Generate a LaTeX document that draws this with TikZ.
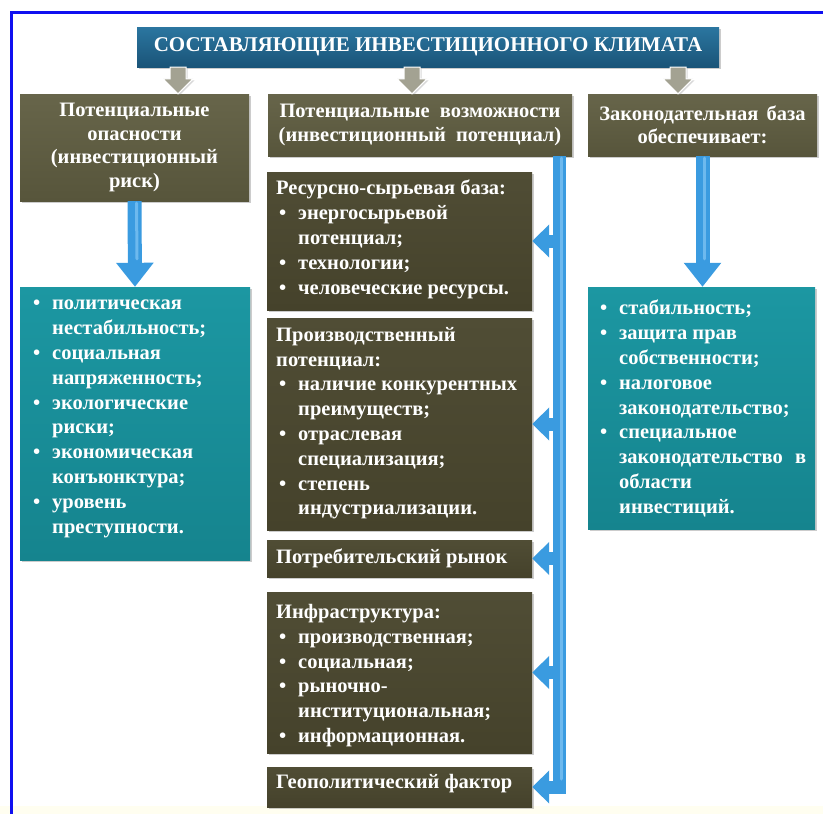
\documentclass[tikz,border=0pt]{standalone}
\usepackage{fontspec}
\setmainfont{Liberation Serif}
\usetikzlibrary{arrows.meta,shadows,calc}
\definecolor{titletop}{HTML}{2B76A0}
\definecolor{titlebot}{HTML}{1A5478}
\definecolor{olivetop}{HTML}{67654A}
\definecolor{olivebot}{HTML}{57553B}
\definecolor{darktop}{HTML}{504D35}
\definecolor{darkbot}{HTML}{45422B}
\definecolor{tealtop}{HTML}{1C97A2}
\definecolor{tealbot}{HTML}{15848E}
\definecolor{arrowblue}{HTML}{3A9BE0}
\definecolor{arrowlight}{HTML}{6DB9EE}
\definecolor{grayarr}{HTML}{A3A292}
\definecolor{frameblue}{HTML}{1010F0}
\newcommand{\bi}{\hspace*{3pt}\makebox[19pt][l]{\textbullet}}
\newcommand{\bc}{\hspace*{22pt}}
\newcommand{\grayarrow}[2]{%
  \path[fill=grayarr, draw=white, line width=1pt,
        drop shadow={opacity=0.3,shadow xshift=1.5pt,shadow yshift=-1.5pt}]
    let \p1=(#1), \p2=(#2) in
    ({\x1-8pt},\y1) -- ({\x1+8pt},\y1) -- ({\x1+8pt},{\y2+15pt}) --
    ({\x1+15pt},{\y2+15pt}) -- (\x1,\y2) -- ({\x1-15pt},{\y2+15pt}) --
    ({\x1-8pt},{\y2+15pt}) -- cycle;}
\begin{document}
\begin{tikzpicture}[x=1pt,y=-1pt,
  txt/.style={text=white, font=\bfseries\fontsize{20.5}{24.8}\selectfont},
  boxbase/.style={inner sep=0pt, drop shadow={opacity=0.4,shadow xshift=2pt,shadow yshift=-2pt}},
  titlebox/.style={boxbase, top color=titletop, bottom color=titlebot, text=white,
     font=\bfseries\fontsize{21}{24}\selectfont},
  headbox/.style={boxbase, top color=olivetop, bottom color=olivebot, txt,
     align=center, font=\bfseries\fontsize{20.5}{23.5}\selectfont},
  midbox/.style={boxbase, top color=darktop, bottom color=darkbot},
  tealbox/.style={boxbase, top color=tealtop, bottom color=tealbot},
  listtxt/.style={txt, inner sep=0pt, align=left, anchor=north west},
  bluearrow/.style={line width=14pt, draw=arrowblue, -{Triangle[length=24pt,width=36pt]}},
  bluebar/.style={line width=13pt, draw=arrowblue, line join=miter, -{Triangle[length=17pt,width=32pt]}},
  highlight/.style={line width=3pt, draw=arrowlight, line cap=round}
]
\useasboundingbox (0,0) rectangle (823,814);
\fill[white] (0,0) rectangle (823,814);
\fill[yellow!6] (0,806) rectangle (823,814);
% frame
\draw[frameblue, line width=3pt] (11,814) -- (11,12) -- (823,12);

% title
\node[titlebox, minimum width=582pt, minimum height=40pt] (title) at (428,47)
  {СОСТАВЛЯЮЩИЕ ИНВЕСТИЦИОННОГО КЛИМАТА};

% headers
\node[headbox, minimum width=229pt, minimum height=107pt] (hL) at (134.5,147.5)
  {Потенциальные\\опасности\\(инвестиционный\\риск)};
\node[headbox, minimum width=304pt, minimum height=62pt] (hM) at (420,125)
  {Потенциальные\hspace{0.5em}возможности\\(инвестиционный\hspace{0.5em}потенциал)};
\node[headbox, minimum width=229pt, minimum height=62pt] (hR) at (702.5,125)
  {Законодательная\hspace{0.4em}база\\обеспечивает:};

% gray arrows
\coordinate (g1) at (178,67);
\coordinate (g2) at (412,67);
\coordinate (g3) at (678,67);
\grayarrow{g1}{g1 |- hL.north}
\grayarrow{g2}{g2 |- hM.north}
\grayarrow{g3}{g3 |- hR.north}

% teal boxes
\node[tealbox, minimum width=230pt, minimum height=273pt] (tL) at (135,423.5) {};
\node[tealbox, minimum width=227pt, minimum height=242pt] (tR) at (701.5,408) {};
\node[listtxt] (tLt) at (30,300) {\bi политическая\\\bc нестабильность;\\\bi социальная\\\bc напряженность;\\\bi экологические\\\bc риски;\\\bi экономическая\\\bc конъюнктура;\\\bi уровень\\\bc преступности.};
\node[listtxt] (tRt) at (597,300) {\bi стабильность;\\\bi защита прав\\\bc собственности;\\\bi налоговое\\\bc законодательство;\\\bi специальное\\\bc законодательство\hspace{0.6em}в\\\bc области\\\bc инвестиций.};

% middle boxes
\node[midbox, minimum width=265pt, minimum height=138pt] (m1) at (399.5,241) {};
\node[midbox, minimum width=265pt, minimum height=212pt] (m2) at (399.5,424) {};
\node[midbox, minimum width=265pt, minimum height=37pt] (m3) at (399.5,558.5) {};
\node[midbox, minimum width=265pt, minimum height=161pt] (m4) at (399.5,672.5) {};
\node[midbox, minimum width=265pt, minimum height=40pt] (m5) at (399.5,787) {};
\node[listtxt] (m1t) at (276,180) {Ресурсно-сырьевая база:\\\bi энергосырьевой\\\bc потенциал;\\\bi технологии;\\\bi человеческие ресурсы.};
\node[listtxt] (m2t) at (276,327) {Производственный\\потенциал:\\\bi наличие конкурентных\\\bc преимуществ;\\\bi отраслевая\\\bc специализация;\\\bi степень\\\bc индустриализации.};
\node[txt, anchor=west, inner sep=0pt] (m3t) at (276,558.5) {Потребительский рынок};
\node[listtxt] (m4t) at (276,604) {Инфраструктура:\\\bi производственная;\\\bi социальная;\\\bi рыночно-\\\bc институциональная;\\\bi информационная.};
\node[txt, anchor=west, inner sep=0pt] (m5t) at (276,784) {Геополитический фактор};

% blue arrows
\draw[bluearrow] (hL.south) -- (tL.north);
\draw[highlight] ($(hL.south)+(2,2)$) -- ($(tL.north)+(2,-28)$);
\draw[bluearrow] (hR.south) -- (hR.south |- tR.north);
\draw[highlight] ($(hR.south)+(2,2)$) -- ($(hR.south |- tR.north)+(2,-28)$);

% blue bar
\coordinate (bartop) at ($(hM.south east)+(-12.5,0)$);
\draw[bluebar] (bartop) -- (bartop |- m5.east) -- (m5.east);
\draw[highlight] ($(bartop)+(2,2)$) -- ($(bartop |- m5.east)+(2,-8)$);
\foreach \b in {m1,m2,m3,m4}
  \draw[bluebar] (bartop |- \b.east) -- (\b.east);
\end{tikzpicture}
\end{document}
